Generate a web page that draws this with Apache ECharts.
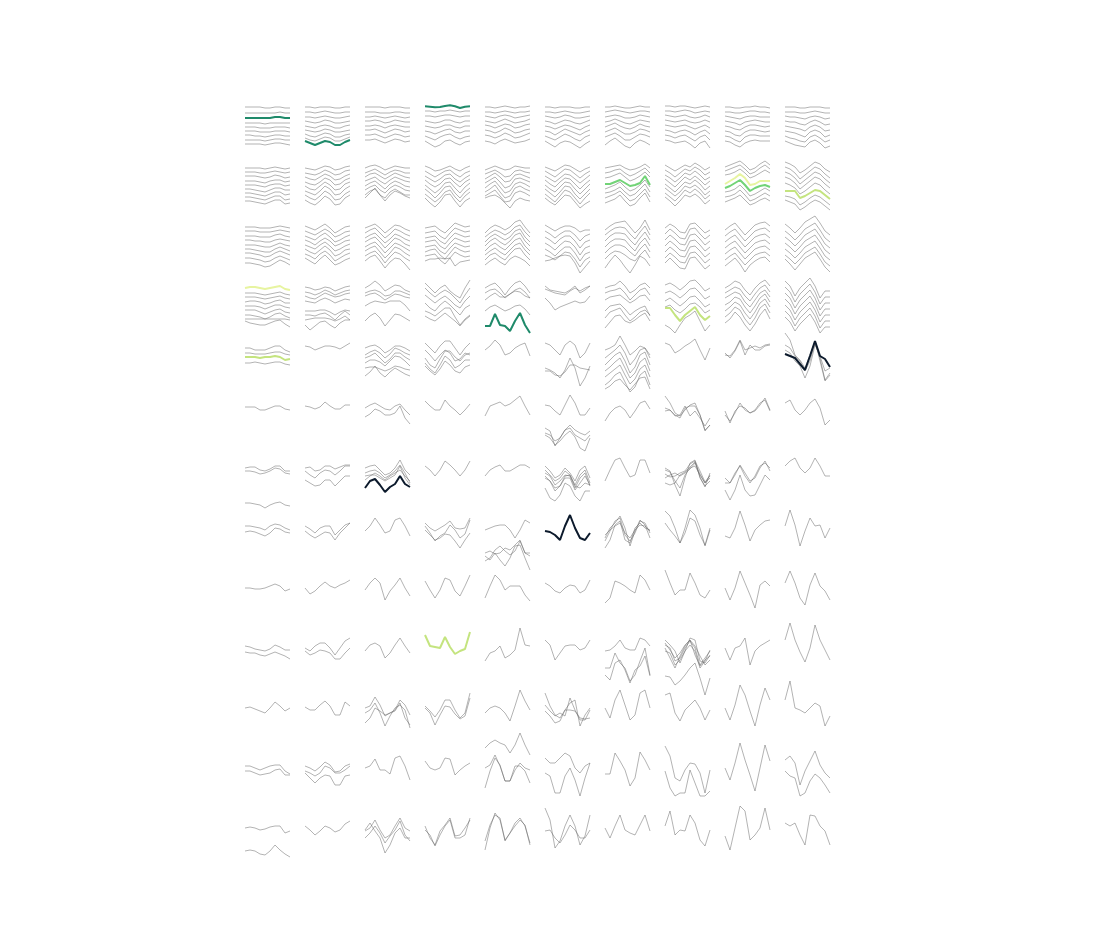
<!DOCTYPE html>
<html><head><meta charset="utf-8">
<script src="https://cdn.jsdelivr.net/npm/echarts/dist/echarts.min.js"></script>
<style>html,body{margin:0;padding:0;background:#fff;}#chart{width:1103px;height:928px;}</style>
</head><body><div id="chart"></div>
<script>
// Each cell: list of lines; each line = 10 values (vertical position within the cell, px from top).
// Prefix "G:", "B:", "Y:", "P:", "N:" marks a highlighted line.
const row0 = [
 ["2 2 2 2 3 3 2 2 3 3","8 8 8 8 8 8 8 7 8 8","G:13 13 13 13 13 13 12 12 13 13","18 18 18 18 19 18 18 18 18 18","22 22 22 23 23 23 22 22 22 23","26 26 26 27 27 27 26 26 26 27","30 30 31 31 32 31 30 30 31 31","35 35 35 35 36 35 34 34 35 35","39 39 39 39 40 39 38 38 39 40"],
 ["2 2 3 2 2 2 3 3 2 2","7 7 8 7 6 7 8 8 7 7","12 12 13 12 11 12 13 13 12 11","16 17 18 17 15 16 18 18 17 16","21 22 23 21 20 21 23 23 21 20","25 26 27 26 24 25 27 27 26 25","29 31 32 30 28 29 32 32 30 29","33 35 36 34 32 33 36 36 34 32","G:36 38 40 38 36 37 40 40 37 35"],
 ["2 2 2 2 3 2 2 2 3 3","7 7 7 8 8 8 7 7 8 8","12 12 11 12 13 12 11 12 13 12","16 16 15 16 18 17 15 16 17 17","21 21 20 21 23 21 20 21 22 22","25 25 24 26 28 26 24 25 27 26","30 30 29 31 33 31 29 30 32 31","35 35 34 36 38 36 34 35 37 36"],
 ["G:1.3 1.7 2.3 2 1 0.3 1.3 3 1.7 1.3","6 6 7 6 6 5 6 7 6 6","11 11 12 11 10 10 11 12 11 11","16 17 18 17 15 15 17 18 16 16","21 22 23 22 20 20 22 23 21 21","26 27 29 27 25 24 27 28 26 26","31 33 35 32 30 29 32 34 32 31","36 39 42 40 36 35 38 40 37 36"],
 ["2 2 3 2 1 2 3 2 2 1","7 7 8 7 6 7 8 7 7 6","11 12 13 11 10 11 13 12 11 10","16 17 18 16 14 16 18 17 16 14","20 21 23 21 19 20 23 22 20 19","25 26 28 26 23 25 28 27 25 24","30 31 33 31 28 30 33 32 30 28","36 37 39 36 34 36 38 37 36 34"],
 ["2 2 3 2 2 2 3 3 2 2","7 7 8 7 6 7 8 8 7 6","11 12 13 12 10 11 13 13 12 11","16 17 19 17 15 16 18 19 17 15","21 22 24 22 20 21 23 25 22 20","26 27 30 27 24 26 28 30 27 25","31 33 35 32 29 31 34 36 32 30","36 39 42 38 36 37 40 43 39 36"],
 ["2 2 1 2 3 3 2 1 2 2","7 6 5 6 7 8 7 6 6 7","12 11 10 11 13 13 12 10 11 12","17 16 14 16 18 19 17 15 16 17","22 20 18 21 23 24 22 19 21 22","27 25 23 26 29 29 27 24 25 27","32 30 28 31 35 35 32 29 30 32","40 36 33 37 41 43 38 35 37 40"],
 ["1 1 2 1 1 2 3 2 1 2","6 6 7 6 5 6 8 7 6 7","10 11 12 11 10 12 13 12 10 12","15 16 17 16 15 17 18 17 15 17","20 21 22 21 20 22 24 22 20 23","25 26 28 26 25 27 30 27 25 29","30 31 33 31 30 33 36 32 30 35","35 36 38 37 36 39 43 38 36 43"],
 ["2 2 3 3 2 2 1 2 2 3","7 7 8 8 7 6 6 7 7 8","11 12 13 14 12 11 11 12 12 12","16 17 18 20 17 16 15 16 17 17","21 22 24 25 22 20 20 21 22 21","26 27 30 31 27 25 25 26 27 26","31 32 35 37 32 30 30 31 31 31","36 37 40 42 38 36 35 36 36 36"],
 ["2 2 2 3 3 2 2 2 3 3","7 7 7 8 8 7 6 7 8 8","11 12 12 13 14 12 11 12 14 13","16 17 17 19 20 17 15 17 20 19","21 22 23 24 26 22 20 22 26 25","26 27 28 30 32 27 25 27 32 30","31 33 34 36 37 32 30 33 37 35","36 38 40 41 42 37 35 38 43 41"]
];
const row1 = [
 ["3 3 3 3 4 3 2 3 4 3","7 7 7 8 8 7 6 7 8 7","11 11 11 12 13 12 10 11 13 12","16 16 16 17 18 16 15 15 17 16","20 20 20 21 22 20 19 19 21 20","24 24 25 26 27 25 23 23 25 25","28 28 29 30 31 29 27 27 30 29","32 32 33 34 35 33 31 31 35 34","36 36 37 38 39 37 35 35 39 38"],
 ["3 4 5 3 1 2 5 4 2 1","8 9 10 8 5 7 10 9 6 5","12 14 15 12 9 11 15 14 11 9","17 19 20 17 13 15 20 19 15 13","21 24 25 21 17 20 25 24 19 17","26 28 30 26 21 24 30 29 24 21","30 33 35 31 26 29 35 34 29 26","35 38 40 36 31 34 40 39 33 30"],
 ["3 1 0 2 5 3 1 2 3 3","8 6 4 7 10 7 5 6 8 8","12 9 8 11 14 11 8 10 12 13","16 14 12 16 19 15 12 14 16 17","21 18 16 20 24 19 16 18 21 22","25 22 20 25 28 23 20 22 25 26","30 26 24 30 33 27 24 27 30 30","33 28 23 30 36 30 26 28 31 33"],
 ["1 3 6 5 3 1 4 6 3 1","6 9 12 9 6 5 9 12 8 6","11 14 17 14 10 9 14 17 13 10","15 19 22 19 14 13 18 22 17 14","20 24 28 24 18 17 23 28 22 18","24 28 33 28 22 21 28 33 27 23","29 33 37 33 27 25 32 37 31 27","33 38 42 37 30 29 36 42 36 33"],
 ["5 3 1 3 5 4 1 2 3 3","9 7 5 8 12 11 6 5 7 8","14 11 8 12 17 16 10 9 11 13","18 15 12 17 23 21 14 13 15 17","23 19 16 22 28 26 19 17 19 22","27 24 20 27 33 31 23 21 24 26","31 28 25 31 37 36 28 26 28 31","33 31 30 33 38 43 36 33 35 36"],
 ["2 4 6 3 0 1 4 7 4 2","6 9 12 8 4 5 9 13 9 6","11 14 17 13 9 10 14 18 14 10","15 19 22 17 13 14 19 24 19 15","20 24 27 22 17 18 24 29 24 19","24 28 32 27 21 22 29 34 29 24","29 33 37 31 25 27 33 39 33 28","33 37 40 35 30 31 37 43 39 36"],
 ["3 2 1 0 3 5 4 2 -1 3","8 7 5 4 8 11 9 6 3 8","13 12 10 8 12 16 14 11 7 12","24 22 20 17 22 26 24 20 15 22","28 27 25 22 27 31 29 24 19 27","33 31 29 26 31 36 34 29 24 32","38 36 34 30 36 41 39 33 28 37","B:19 19 17 15 18 21 20 18 11 20"],
 ["0 3 6 3 0 2 -2 1 5 2","5 8 12 8 4 6 2 5 10 7","10 13 17 13 8 10 6 10 15 12","14 18 22 17 12 15 11 15 20 16","19 23 27 22 17 19 15 19 25 21","23 27 31 27 21 23 20 24 30 26","28 32 36 31 25 28 24 28 34 30","32 36 41 36 30 32 29 33 39 35"],
 ["2 0 -2 -4 0 5 3 -1 -4 0","6 4 2 0 4 9 7 3 0 4","10 9 7 4 8 13 11 8 5 8","27 26 24 20 25 31 29 26 23 26","32 31 29 25 30 36 34 31 28 31","37 35 33 30 35 40 38 35 33 36","P:19 16 13 9 13 20 19 16 16 16","B:23 21 18 15 20 26 23 21 20 22"],
 ["-3 -1 2 8 5 1 -3 -1 4 7","2 4 8 14 10 6 2 4 9 13","7 9 13 19 15 11 7 9 14 18","12 14 18 24 20 16 12 14 19 23","18 20 23 29 26 22 18 20 25 29","31 32 34 40 37 33 30 32 36 40","35 37 39 45 42 38 35 37 41 45","Y:26 26 26 33 31 28 25 26 30 34"]
];
const row2 = [
 ["2 2 2 3 3 3 2 1 2 3","6 6 6 7 7 7 6 5 6 7","11 11 11 12 12 12 10 9 11 12","15 15 16 16 17 17 15 14 15 16","20 20 20 21 22 22 20 18 20 21","24 24 25 26 27 27 24 22 24 26","28 28 29 30 32 31 28 26 28 30","33 33 34 35 37 36 33 31 33 35","38 38 39 40 42 41 38 35 37 40"],
 ["1 3 5 2 -1 3 8 5 2 1","6 8 10 7 4 7 12 10 7 6","11 13 15 11 8 12 17 15 12 10","15 17 20 16 13 16 21 19 16 15","20 22 24 20 17 21 26 24 21 19","24 27 29 25 21 25 31 29 25 24","29 31 34 29 26 30 36 33 30 28","33 36 39 34 30 35 40 38 35 33"],
 ["3 1 -1 3 8 4 0 1 4 6","8 5 3 8 13 9 4 6 9 11","13 10 8 13 18 14 9 11 14 16","17 14 12 17 23 18 13 15 19 21","22 19 17 22 28 23 18 20 23 26","26 23 21 27 33 28 22 24 28 31","31 28 26 31 38 32 27 29 33 36","36 32 30 36 43 37 33 34 39 45"],
 ["3 2 1 5 8 3 -2 0 2 1","8 7 6 11 14 8 3 5 7 6","13 12 11 16 19 13 8 10 12 11","17 16 15 21 24 18 13 15 17 16","22 21 20 26 29 23 18 20 22 21","27 25 24 30 34 28 22 25 27 26","31 30 29 35 39 33 27 30 32 31","36 34 34 33 34 33 41 37 36 35"],
 ["8 3 0 2 5 2 -3 -5 2 8","12 8 5 7 10 7 2 0 7 12","17 12 9 12 15 12 6 4 12 17","21 16 13 17 20 16 10 8 16 21","26 21 18 22 25 20 15 13 21 26","30 26 23 27 30 25 20 18 25 30","35 30 28 32 35 29 24 23 30 35","40 36 33 37 40 34 31 33 36 41"],
 ["0 3 6 3 1 1 3 7 5 5","6 9 13 9 6 6 10 16 11 9","12 15 19 14 11 11 16 23 17 15","18 21 25 20 16 17 22 30 23 21","24 27 31 26 22 22 28 36 29 27","30 32 35 31 27 28 34 42 35 32","36 35 33 31 30 31 38 48 42 36"],
 ["5 1 -2 -3 -4 2 8 3 -5 5","10 6 3 2 3 9 14 7 1 10","16 11 8 8 9 15 20 13 7 15","22 17 14 14 15 21 26 18 13 21","28 23 20 20 22 27 31 24 19 27","34 29 26 27 30 34 36 30 25 33","43 36 30 35 42 48 40 31 34 41"],
 ["3 -1 2 7 8 -1 -2 3 8 5","9 4 8 13 14 4 3 9 14 10","15 10 14 19 20 10 9 14 20 16","21 16 20 25 26 16 15 20 26 22","27 22 26 31 32 22 21 26 32 28","33 28 32 37 38 28 27 32 38 34","38 33 38 43 44 33 32 38 44 40"],
 ["5 1 -2 4 10 5 0 -2 -3 1","11 7 4 10 16 11 6 4 3 7","17 13 10 16 22 17 12 10 9 13","23 19 16 22 28 23 18 16 15 19","29 25 22 28 34 29 24 22 21 25","35 31 28 34 40 35 30 28 27 31","41 37 33 39 47 40 36 33 32 37"],
 ["-1 3 8 3 -3 -6 -9 -2 6 10","6 10 15 10 4 1 -2 5 13 17","12 16 21 16 10 7 4 11 19 23","18 22 27 22 16 13 10 17 25 29","24 28 33 28 22 19 16 23 31 35","30 34 39 34 28 25 22 29 37 41","34 39 45 39 33 30 27 34 42 47"]
];
const row3 = [
 ["P:3 2 2 3 4 3 2 1 4 5","8 8 8 9 10 9 8 7 9 10","12 12 12 13 14 13 12 11 13 14","17 16 16 17 19 18 16 15 18 18","21 21 21 22 24 22 20 20 22 23","25 25 25 27 29 27 25 24 27 28","30 30 31 32 34 32 29 28 31 33","34 34 34 34 34 34 34 34 34 35","36 38 39 40 40 38 36 35 39 42"],
 ["2 3 5 4 2 3 6 4 2 1","7 8 10 8 5 7 10 8 6 5","11 13 14 11 8 10 12 11 9 8","16 17 18 15 13 15 18 16 14 15","26 26 26 25 25 27 30 27 25 26","30 30 31 29 28 31 35 30 26 30","35 34 33 33 33 34 36 34 31 35","40 45 41 37 36 40 43 38 35 35"],
 ["3 0 -4 0 6 3 0 1 5 7","8 6 5 7 11 10 6 6 8 10","11 9 8 11 15 12 9 10 12 13","21 18 16 17 18 16 16 16 20 26","36 31 28 33 41 35 29 30 33 36"],
 ["-2 3 8 3 0 6 10 13 3 -5","3 8 12 8 5 8 13 18 10 3","10 14 18 14 11 15 20 23 16 11","18 23 26 20 16 20 25 30 23 20","26 28 31 27 23 23 32 40 34 30","31 34 36 32 28 32 36 41 35 31"],
 ["3 0 -2 3 10 3 -2 -4 1 8","8 5 4 8 13 9 5 3 7 13","15 11 8 12 12 9 6 7 11 13","26 22 20 23 26 24 21 20 24 30","G:41 41 29 40 41 46 36 28 40 48"],
 ["1 5 6 7 8 5 1 8 5 1","4 6 8 9 10 6 3 6 3 1","13 18 25 22 20 18 16 18 17 11"],
 ["3 1 0 -4 1 8 5 0 -2 3","8 6 5 3 8 15 10 5 3 10","15 12 11 10 14 18 15 11 10 16","26 21 20 19 24 30 26 23 21 31","33 27 25 23 30 36 32 27 25 30","43 37 31 30 36 38 35 31 28 36"],
 ["0 -2 1 5 1 -4 -5 0 6 3","8 6 9 13 9 4 3 8 14 11","16 13 17 21 17 12 11 16 22 19","22 20 25 28 24 19 18 22 28 25","40 43 48 40 33 30 26 36 46 40","Y:23 23 30 36 30 26 22 30 35 31"],
 ["3 0 -4 -2 5 10 3 -2 -5 1","8 5 2 4 11 16 9 3 0 7","13 10 7 9 17 22 15 8 5 12","20 17 12 14 22 28 21 13 9 17","26 22 17 20 28 34 27 18 14 22","32 28 22 25 34 40 33 23 19 28","38 34 27 32 40 46 39 30 24 34"],
 ["-4 1 11 3 -2 -7 1 13 6 6","2 7 17 9 4 -1 7 19 12 12","8 13 23 15 10 5 13 25 18 18","14 19 29 21 16 11 19 31 24 24","20 25 35 27 22 17 25 37 30 30","26 31 41 33 28 23 31 43 36 36","32 37 46 39 34 29 37 48 42 42"]
];
const row4 = [
 ["3 3 5 5 5 3 1 1 5 7","8 8 9 9 9 8 7 7 9 10","Y:12 12 12 13 12 12 11 12 15 14","18 18 17 18 19 18 17 17 19 20"],
 ["1 2 5 3 1 1 2 4 1 -2"],
 ["3 1 0 3 8 5 1 1 3 6","10 7 5 8 13 9 3 5 8 10","13 11 8 13 18 14 8 8 12 15","18 15 15 17 21 16 11 12 16 21","23 22 22 24 26 24 21 22 24 25","31 27 21 28 32 27 23 26 29 31"],
 ["-2 3 8 1 -4 -4 3 10 3 -2","5 10 16 10 5 8 16 14 8 10","13 20 23 14 6 6 12 16 10 8","18 24 28 20 11 15 23 20 15 15","21 26 30 24 16 20 26 28 22 20"],
 ["5 1 -5 0 10 8 3 0 -2 11"],
 ["-2 0 5 10 0 -4 0 13 8 -2","23 25 28 33 25 13 23 41 33 21","26 26 30 31 27 20 20 23 24 25"],
 ["5 3 0 -9 0 10 6 1 3 10","13 9 5 0 8 20 14 5 3 13","20 15 10 7 16 28 22 10 7 20","26 22 17 13 23 33 28 17 13 26","32 28 24 20 30 39 34 24 20 32","40 36 30 27 37 47 42 30 26 40","44 41 36 34 40 45 39 33 32 44"],
 ["-2 0 8 5 1 -2 -6 5 15 3"],
 ["10 11 5 -5 5 3 1 3 0 -1","8 13 6 -4 10 0 5 5 1 0"],
 ["-12 -5 10 15 23 10 -4 16 36 30","0 3 11 16 26 16 -2 13 35 28","5 8 16 21 33 21 0 11 26 23","N:9 11 13 19 25 11 -4 11 14 22"]
];
const row5 = [
 ["2 2 2 5 5 3 1 1 4 5"],
 ["1 2 4 2 -3 1 4 4 0 0"],
 ["3 0 -2 1 4 5 1 -1 5 10","12 9 4 6 10 10 8 1 13 19"],
 ["-4 1 5 5 -5 1 5 10 5 -1"],
 ["11 1 -1 -3 1 -1 -5 -9 1 10"],
 ["0 1 6 10 0 -10 -2 10 10 3","23 26 41 33 25 20 25 28 30 26","30 33 40 36 30 26 32 43 46 33","28 30 36 33 25 23 30 33 36 30"],
 ["16 8 3 1 5 13 6 -2 -4 4"],
 ["3 5 11 10 1 11 6 13 21 13","6 5 10 13 3 1 1 10 26 20","-9 -2 8 11 5 0 -2 10 25 20"],
 ["10 16 8 -2 5 8 6 0 -7 5","6 18 6 1 3 8 5 -2 -5 6"],
 ["-2 -5 5 10 5 -2 -6 3 20 15"]
];
const row6 = [
 ["3 2 2 5 6 4 1 1 6 6","6 6 7 9 8 6 3 4 8 9","38 38 39 40 43 40 38 37 40 41"],
 ["3 2 6 5 1 1 4 2 0 0","6 10 13 8 5 6 10 6 1 1","15 18 21 20 15 15 21 16 11 11"],
 ["3 1 0 5 10 8 3 -5 5 10","8 6 5 8 13 10 6 0 8 18","11 10 10 13 16 13 10 1 13 20","15 11 8 11 15 11 8 5 11 16","N:23 16 14 20 27 22 19 11 19 22"],
 ["1 5 11 5 -4 0 5 11 5 -4"],
 ["11 5 2 0 6 6 3 0 0 3"],
 ["1 6 13 10 3 8 16 5 1 13","5 10 16 13 6 10 20 10 5 18","8 11 20 16 10 11 23 13 8 21","13 16 23 21 13 13 25 18 11 20","11 16 26 21 11 10 21 23 18 20","23 33 36 30 18 21 31 36 26 26"],
 ["16 5 -5 -7 3 12 10 -5 -5 8"],
 ["3 6 20 31 13 -2 -5 13 21 16","5 7 16 23 10 3 1 10 18 10","13 10 8 11 8 4 -2 9 18 13","18 20 18 10 7 2 -3 12 22 8","9 12 11 8 6 -1 -4 6 17 11"],
 ["13 18 10 0 8 16 13 3 -4 6","18 18 8 1 11 18 11 1 -2 3","25 35 25 10 25 31 30 20 10 15"],
 ["1 -4 -7 3 8 3 -7 1 11 11"]
];
const row7 = [
 ["1 1 2 3 5 1 -1 0 3 5","7 6 7 9 11 8 3 4 7 8"],
 ["1 4 8 3 1 1 10 5 0 -2","6 10 13 10 7 8 15 8 3 -2"],
 ["6 1 -7 0 8 6 -5 -7 1 11"],
 ["-2 3 6 3 0 -4 3 4 3 -7","1 8 16 11 8 0 5 13 9 -5","5 10 15 13 9 10 16 23 15 8"],
 ["5 3 1 0 0 5 13 5 -5 -2","28 26 29 28 23 25 20 15 28 31","31 35 28 35 41 33 21 20 33 45","36 33 25 21 26 30 26 16 28 28"],
 ["N:6 7 10 15 1 -10 3 13 15 8"],
 ["13 3 -2 -9 3 21 6 -5 0 13","16 6 -4 -7 10 16 8 -4 -2 8","23 15 0 -4 15 18 3 -2 3 5","10 5 1 -2 8 13 5 0 1 6"],
 ["-14 -9 3 18 3 -15 -10 3 21 5","-2 5 11 18 8 -7 -4 10 20 3"],
 ["11 13 3 -14 0 16 5 0 -4 -5"],
 ["1 -15 0 21 6 -7 1 0 13 3"]
];
const row8 = [
 ["3 3 4 4 3 1 -1 1 6 4"],
 ["3 9 6 1 -3 1 3 0 -2 -5"],
 ["5 -2 -7 -2 15 6 0 -7 3 11"],
 ["-4 5 13 5 -7 -5 6 11 1 -10"],
 ["13 1 -10 -5 5 1 1 1 10 16"],
 ["-2 1 6 8 3 0 1 8 5 -5"],
 ["18 13 -4 -2 1 5 8 -10 -5 5"],
 ["-15 -2 10 5 5 -12 -2 10 13 5"],
 ["3 15 3 -14 -2 10 23 0 -4 1"],
 ["-2 -14 -2 13 20 0 -12 1 6 15"]
];
const row9 = [
 ["1 2 4 5 6 4 0 2 5 5","7 8 8 10 11 9 7 9 11 14"],
 ["3 6 1 -2 -2 3 10 3 -4 -7","6 10 8 5 6 8 14 14 8 3"],
 ["6 0 -2 1 13 8 0 -7 1 8"],
 ["Y:-10 1 2 3 -8 2 9 6 4 -13"],
 ["16 8 6 1 13 10 5 -17 0 1"],
 ["-5 0 15 8 1 0 0 5 3 -5"],
 ["6 5 1 -5 3 5 5 -7 -5 1","23 23 8 18 23 36 30 16 3 30","30 35 18 15 25 38 25 21 11 31"],
 ["-5 0 6 18 6 -7 -5 16 18 10","0 3 16 13 3 -4 3 20 13 6","6 8 20 15 6 0 6 23 16 5","3 13 23 11 1 -5 10 21 15 11","-2 5 13 8 0 -5 1 11 20 15","31 32 40 36 30 23 18 33 50 33"],
 ["3 15 3 1 -7 20 6 1 -2 -5"],
 ["-5 -22 -5 7 17 3 -20 -5 5 15"]
];
const row10 = [
 ["3 2 4 6 8 3 -3 1 6 3"],
 ["2 5 5 0 -4 1 10 10 -3 1"],
 ["3 1 -8 0 11 8 5 -5 0 10","8 5 -2 8 21 11 3 0 5 23","18 13 3 6 10 8 6 -2 13 20"],
 ["1 6 12 5 -5 -5 5 13 8 -12","3 8 20 10 1 2 9 14 11 -7"],
 ["8 3 1 3 8 16 1 -15 -4 5"],
 ["-12 1 10 13 5 -2 -5 21 10 3","0 6 11 8 11 -7 5 15 15 5","6 11 18 16 5 5 6 13 14 13"],
 ["3 13 -5 -15 0 15 10 -12 -15 3"],
 ["-10 -12 8 16 5 0 -5 3 15 5"],
 ["3 15 0 -20 -10 6 21 0 -17 -5"],
 ["-5 -24 3 5 8 3 -2 1 21 11"]
];
const row11 = [
 ["1 1 3 5 3 1 0 0 6 9","6 6 8 10 9 8 5 4 10 10"],
 ["1 3 6 2 -3 0 7 6 1 -1","6 8 11 8 1 3 8 8 5 1","8 13 18 13 10 11 20 20 11 10"],
 ["3 1 -6 5 5 9 -7 -9 1 15"],
 ["-4 3 5 3 -7 -6 10 5 1 -2"],
 ["-17 -22 -25 -22 -20 -12 -20 -32 -20 -10","3 0 -10 1 16 16 1 1 6 18","23 6 -7 0 16 16 5 -2 3 5"],
 ["-7 -2 -2 -7 -12 -9 3 8 1 -2","8 11 28 28 11 3 15 31 13 -2"],
 ["9 9 -12 -4 5 21 13 -13 -5 5"],
 ["-19 -9 13 16 5 -2 -1 8 28 5","6 23 31 28 28 5 18 31 31 26"],
 ["3 15 -2 -22 -5 10 26 3 -20 -4"],
 ["-5 -9 -2 20 6 -4 -14 0 8 13","6 11 13 31 28 16 9 13 20 28"]
];
const row12 = [
 ["3 2 3 5 4 2 1 1 8 6","26 25 26 29 30 26 20 25 29 32"],
 ["1 5 10 6 1 3 7 5 -1 -4"],
 ["6 3 -5 5 13 10 1 -7 3 6","13 8 1 8 18 11 5 -4 10 16","5 -2 6 13 28 20 8 3 13 13"],
 ["5 10 21 10 1 -5 13 13 10 -7","1 13 20 6 0 -7 11 10 3 -5"],
 ["25 3 -12 -5 15 8 -2 -7 1 18","16 0 -10 -7 16 8 1 -5 0 20"],
 ["-17 -5 23 16 1 -10 1 20 11 -10","6 5 13 18 10 0 5 13 13 5"],
 ["3 13 1 -10 5 8 10 0 -10 6"],
 ["1 -14 10 5 6 -10 -2 15 21 5"],
 ["11 25 3 -19 -14 15 10 3 -17 5"],
 ["-2 1 -2 10 20 -10 -9 1 6 20"]
];
const highlightColors = {G:'#1f8a6a', B:'#72d377', Y:'#c4e47f', P:'#e7f4a0', N:'#0c1a2c'};
const greyColor = 'rgba(95,95,95,0.6)';

const rows = [row0,row1,row2,row3,row4,row5,row6,row7,row8,row9,row10,row11,row12];
const grids=[], xAxes=[], yAxes=[], series=[];
rows.forEach((row,r)=>row.forEach((cell,c)=>{
  const gi = grids.length;
  grids.push({left:245+60*c, top:105+60*r, width:45, height:45});
  xAxes.push({gridIndex:gi, type:'value', min:0, max:9, show:false});
  yAxes.push({gridIndex:gi, type:'value', min:0, max:45, inverse:true, show:false});
  cell.forEach(s=>{
    let key=null;
    if(/^[A-Z]:/.test(s)){key=s[0]; s=s.slice(2);}
    const vals = s.trim().split(/\s+/).map(Number);
    series.push({
      type:'line', xAxisIndex:gi, yAxisIndex:gi,
      data: vals.map((v,i)=>[i,v]),
      symbol:'none', clip:false, silent:true, smooth:false,
      lineStyle: key ? {color:highlightColors[key], width:2} : {color:greyColor, width:0.8},
      z: key ? 5 : 2
    });
  });
}));
const chart = echarts.init(document.getElementById('chart'), null, {renderer:'canvas'});
chart.setOption({animation:false, backgroundColor:'#fff', grid:grids, xAxis:xAxes, yAxis:yAxes, series:series});
</script>
</body></html>
